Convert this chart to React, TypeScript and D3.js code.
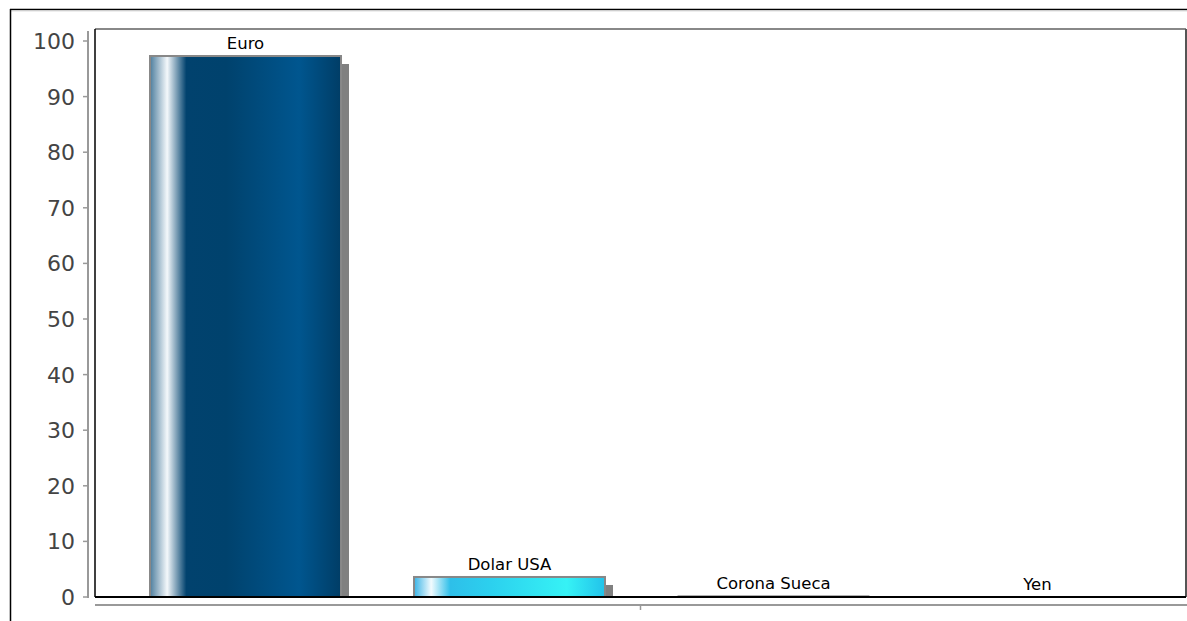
import React from "react";
import * as d3 from "d3";

const categories = ["Euro", "Dolar USA", "Corona Sueca", "Yen"];
const values = [97.3, 3.6, 0.2, 0.05];
const yTicks = [0, 10, 20, 30, 40, 50, 60, 70, 80, 90, 100];

const W = 1187;
const H = 621;

export default function App() {
  const plotLeft = 95;
  const plotRight = 1186;
  const plotTop = 29;
  const plotBottom = 597;

  const y = d3.scaleLinear().domain([0, 100]).range([597, 41]);
  const x = d3
    .scaleBand<string>()
    .domain(categories)
    .range([113.5, 1169.5])
    .paddingInner(0.2765)
    .paddingOuter(0.1383);

  const grads = [
    [
      ["0%", "#4d7e9e"],
      ["9%", "#f4f8fb"],
      ["19%", "#01426e"],
      ["40%", "#00426d"],
      ["78%", "#00568f"],
      ["100%", "#003d66"],
    ],
    [
      ["0%", "#3ab4e6"],
      ["9%", "#f2fbfe"],
      ["19%", "#2ebfe9"],
      ["40%", "#2cd0ee"],
      ["80%", "#36f2f5"],
      ["100%", "#22c2ea"],
    ],
    [
      ["0%", "#9a9a9a"],
      ["100%", "#8a8a8a"],
    ],
    [
      ["0%", "#9a9a9a"],
      ["100%", "#8a8a8a"],
    ],
  ];

  const shadow = 8;

  return (
    <svg width={W} height={H} style={{ position: "absolute", left: 0, top: 0, display: "block" }}>
      <defs>
        {grads.map((g, i) => (
          <linearGradient key={i} id={`g${i}`} x1="0" x2="1" y1="0" y2="0">
            {g.map(([o, c], j) => (
              <stop key={j} offset={o} stopColor={c} />
            ))}
          </linearGradient>
        ))}
        <clipPath id="plotclip">
          <rect x={plotLeft} y={plotTop} width={plotRight - plotLeft} height={plotBottom - plotTop} />
        </clipPath>
      </defs>
      <rect x={0} y={0} width={W} height={H} fill="#fff" />
      {/* outer frame */}
      <line x1={10} x2={W} y1={9.5} y2={9.5} stroke="#000" strokeWidth={1.5} />
      <line x1={10} x2={W} y1={11} y2={11} stroke="#ddd" strokeWidth={1} />
      <line x1={10.5} x2={10.5} y1={9} y2={H} stroke="#000" strokeWidth={1.5} />

      {/* plot frame */}
      <line x1={plotLeft} x2={plotRight} y1={plotTop} y2={plotTop} stroke="#888" strokeWidth={2} />
      <line x1={plotRight} x2={plotRight} y1={plotTop} y2={plotBottom} stroke="#555" strokeWidth={2} />
      <line x1={plotLeft} x2={plotLeft} y1={plotTop} y2={plotBottom} stroke="#000" strokeWidth={1.5} />

      {/* bars */}
      <g clipPath="url(#plotclip)">
        {categories.map((c, i) => {
          const bx = x(c)!;
          const by = y(values[i]);
          const bw = x.bandwidth();
          const bh = y(0) - by;
          return (
            <g key={c}>
              {bh > 3 && (
                <rect x={bx + shadow} y={by + shadow} width={bw} height={bh} fill="#808080" />
              )}
              <rect
                x={bx}
                y={by}
                width={bw}
                height={Math.max(bh, 1)}
                fill={`url(#g${i})`}
                stroke="#888"
                strokeWidth={bh > 3 ? 2 : 1}
              />
            </g>
          );
        })}
      </g>
      <line x1={plotLeft} x2={plotRight} y1={plotBottom} y2={plotBottom} stroke="#000" strokeWidth={2} />

      {/* bar labels */}
      {categories.map((c, i) => (
        <text
          key={c}
          x={x(c)! + x.bandwidth() / 2}
          y={y(values[i]) - 7}
          textAnchor="middle"
          fontFamily="DejaVu Sans, sans-serif"
          fontSize={16.5}
          fill="#000"
        >
          {c}
        </text>
      ))}

      {/* y axis */}
      <line x1={88} x2={88} y1={31} y2={598} stroke="#999" strokeWidth={2} />
      {yTicks.map((t) => (
        <g key={t}>
          <line x1={83} x2={88} y1={y(t)} y2={y(t)} stroke="#999" strokeWidth={1.5} />
          <text
            x={75}
            y={y(t)}
            dy="0.36em"
            textAnchor="end"
            fontFamily="DejaVu Sans, sans-serif"
            fontSize={22}
            fill="#444"
          >
            {t}
          </text>
        </g>
      ))}

      {/* x axis */}
      <line x1={plotLeft} x2={W} y1={605} y2={605} stroke="#999" strokeWidth={2} />
      <line x1={640.5} x2={640.5} y1={605} y2={610} stroke="#999" strokeWidth={1.5} />
    </svg>
  );
}
